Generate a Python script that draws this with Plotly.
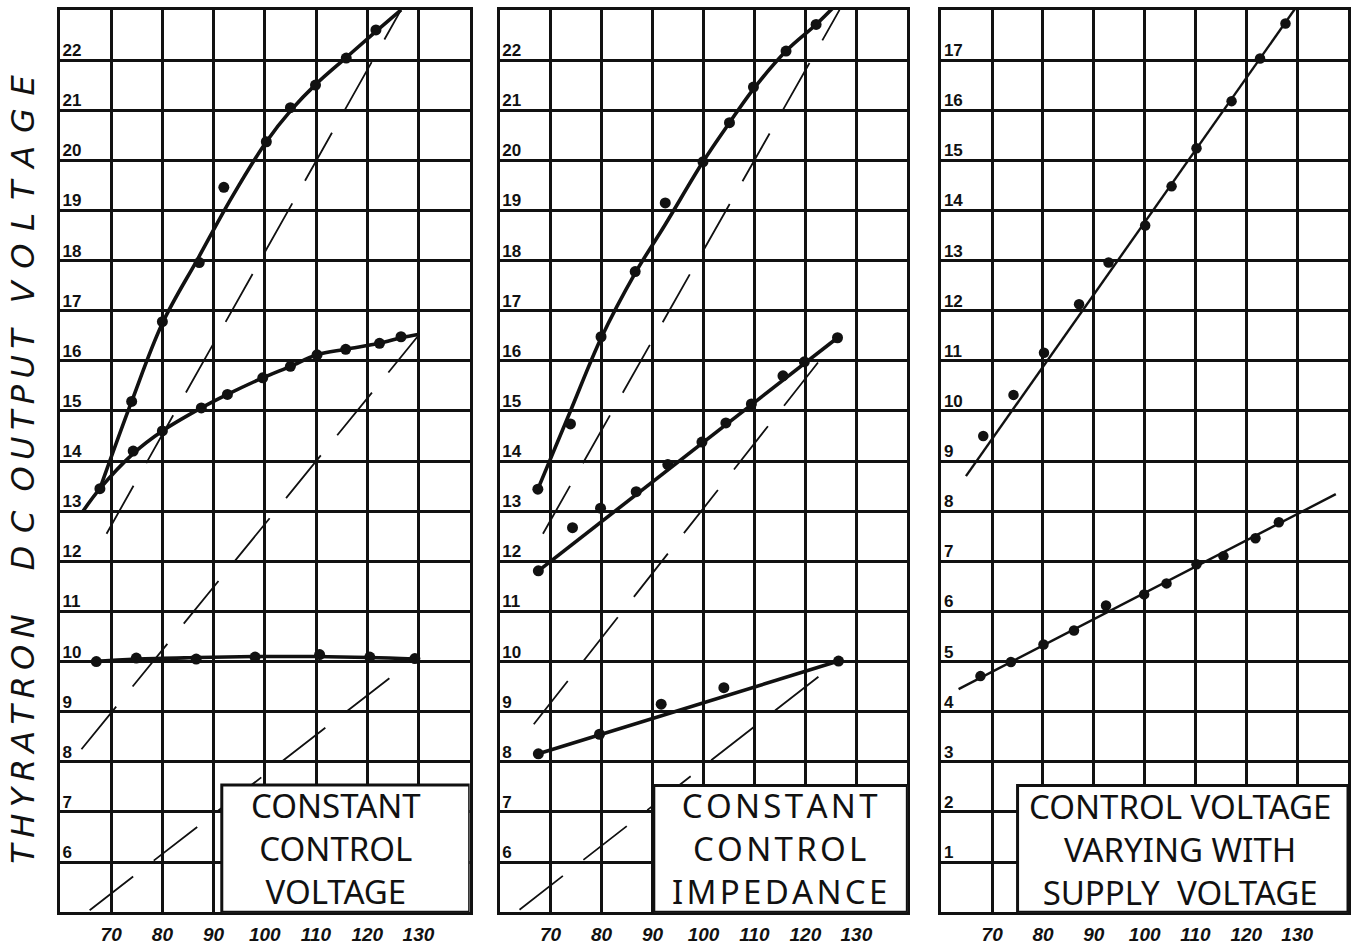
import plotly.graph_objects as go

# ---------------------------------------------------------------- data
supply_ticks = [70, 80, 90, 100, 110, 120, 130]
out_ticks_ab = list(range(6, 23))      # panels 1 and 2
out_ticks_c = list(range(1, 18))       # panel 3

# Panel 1 - constant control voltage
p1_hi_pts_x = [67.8, 74.0, 80.0, 87.2, 92.0, 100.3, 105.0, 109.9, 115.9, 121.7]
p1_hi_pts_y = [13.45, 15.19, 16.78, 17.96, 19.46, 20.37, 21.05, 21.5, 22.04, 22.6]
p1_hi_curve_x = [67.8, 74.0, 80.0, 87.0, 93.5, 100.3, 105.3, 110.0, 116.0, 121.7, 126.6]
p1_hi_curve_y = [13.45, 15.19, 16.75, 18.05, 19.25, 20.37, 21.02, 21.52, 22.06, 22.57, 23.0]

p1_mid_pts_x = [74.3, 80.0, 87.6, 92.7, 99.6, 105.0, 110.2, 115.8, 122.4, 126.6]
p1_mid_pts_y = [14.2, 14.6, 15.06, 15.33, 15.66, 15.89, 16.12, 16.23, 16.35, 16.48]
p1_mid_curve_x = [64.5, 67.8, 74.3, 80.0, 87.6, 92.7, 99.6, 105.0, 110.2, 115.8, 122.4, 126.6, 130.2]
p1_mid_curve_y = [13.0, 13.45, 14.15, 14.6, 15.06, 15.33, 15.66, 15.89, 16.12, 16.23, 16.35, 16.46, 16.53]

p1_lo_pts_x = [67.1, 74.9, 86.6, 98.1, 110.7, 120.5, 129.3]
p1_lo_pts_y = [10.0, 10.07, 10.05, 10.09, 10.14, 10.09, 10.06]
p1_lo_curve_x = [66.2, 75.0, 87.0, 98.0, 110.0, 120.5, 129.3]
p1_lo_curve_y = [10.0, 10.05, 10.08, 10.1, 10.1, 10.08, 10.05]

# proportional reference lines (start, end)
p1_ref_x = [[69.1, 126.6], [64.2, 130.2], [65.8, 129.3]]
p1_ref_y = [[12.55, 23.0], [8.25, 16.53], [5.04, 10.06]]

# Panel 2 - constant control impedance
p2_hi_pts_x = [67.5, 73.9, 79.9, 86.6, 92.5, 99.9, 105.1, 109.8, 116.2, 122.1]
p2_hi_pts_y = [13.44, 14.74, 16.48, 17.78, 19.15, 19.97, 20.75, 21.46, 22.18, 22.71]
p2_hi_curve_x = [67.5, 73.9, 79.9, 86.6, 92.5, 99.9, 105.1, 109.8, 116.2, 122.1, 125.4]
p2_hi_curve_y = [13.44, 15.0, 16.45, 17.75, 18.72, 19.97, 20.75, 21.42, 22.18, 22.71, 23.04]

p2_mid_pts_x = [67.6, 74.3, 79.8, 86.8, 93.0, 99.7, 104.4, 109.4, 115.6, 119.8, 126.3]
p2_mid_pts_y = [11.81, 12.67, 13.06, 13.39, 13.93, 14.38, 14.76, 15.14, 15.70, 15.98, 16.46]
p2_mid_curve_x = [67.6, 126.3]
p2_mid_curve_y = [11.81, 16.46]

p2_lo_pts_x = [67.6, 79.6, 91.7, 104.0, 126.5]
p2_lo_pts_y = [8.16, 8.55, 9.15, 9.48, 10.01]
p2_lo_curve_x = [67.6, 126.5]
p2_lo_curve_y = [8.16, 10.01]

p2_ref_x = [[68.5, 126.7], [66.7, 126.3], [63.9, 126.5]]
p2_ref_y = [[12.55, 23.0], [8.75, 16.46], [5.05, 10.01]]

# Panel 3 - control voltage varying with supply voltage
p3_hi_pts_x = [68.25, 74.2, 80.2, 87.1, 92.9, 100.1, 105.3, 110.2, 117.1, 122.7, 127.7]
p3_hi_pts_y = [9.50, 10.32, 11.16, 12.13, 12.96, 13.70, 14.48, 15.24, 16.18, 17.03, 17.73]
p3_hi_line_x = [64.85, 129.7]
p3_hi_line_y = [8.70, 18.04]

p3_lo_pts_x = [67.7, 73.7, 80.1, 86.1, 92.4, 99.9, 104.3, 110.2, 115.5, 121.8, 126.4]
p3_lo_pts_y = [4.71, 4.99, 5.34, 5.62, 6.12, 6.34, 6.56, 6.94, 7.10, 7.46, 7.78]
p3_lo_line_x = [63.4, 137.6]
p3_lo_line_y = [4.45, 8.34]

panel_labels = [
    ["CONSTANT", "CONTROL", "VOLTAGE"],
    ["CONSTANT", "CONTROL", "IMPEDANCE"],
    ["CONTROL VOLTAGE", "VARYING WITH", "SUPPLY  VOLTAGE"],
]
y_title_words = ["THYRATRON", "DC", "OUTPUT", "VOLTAGE"]

# ---------------------------------------------------------------- layout helpers
W, H = 1351, 945
INK = "#111111"


def px(x):
    return x / W


def py(y):
    return 1 - y / H


def spaced(word, gap):
    return gap.join(word)


def keep_spaces(line):
    return line.replace(" ", "\u00a0")


x_domains = [[px(60), px(470)], [px(500), px(908)], [px(942), px(1349)]]
y_domain = [py(920), py(10)]
y_ranges = [[5, 23], [5, 23], [0, 18]]
y_ticks = [out_ticks_ab, out_ticks_ab, out_ticks_c]

fig = go.Figure()


def curve(i, xs, ys, width=3.6, shape="spline"):
    fig.add_trace(go.Scatter(
        x=xs, y=ys, mode="lines", xaxis=f"x{i}", yaxis=f"y{i}",
        line=dict(color=INK, width=width, shape=shape, smoothing=1.0),
        hoverinfo="skip", showlegend=False))


def dots(i, xs, ys, size=11):
    fig.add_trace(go.Scatter(
        x=xs, y=ys, mode="markers", xaxis=f"x{i}", yaxis=f"y{i}",
        marker=dict(color=INK, size=size, line=dict(width=0)),
        showlegend=False))


def refs(i, xs_list, ys_list):
    for xs, ys in zip(xs_list, ys_list):
        fig.add_trace(go.Scatter(
            x=xs, y=ys, mode="lines", xaxis=f"x{i}", yaxis=f"y{i}",
            line=dict(color=INK, width=1.8, dash="55px,26px"),
            hoverinfo="skip", showlegend=False))


# panel 1
refs("", p1_ref_x, p1_ref_y)
curve("", p1_hi_curve_x, p1_hi_curve_y)
curve("", p1_mid_curve_x, p1_mid_curve_y)
curve("", p1_lo_curve_x, p1_lo_curve_y)
dots("", p1_hi_pts_x, p1_hi_pts_y)
dots("", p1_mid_pts_x, p1_mid_pts_y)
dots("", p1_lo_pts_x, p1_lo_pts_y)

# panel 2
refs("2", p2_ref_x, p2_ref_y)
curve("2", p2_hi_curve_x, p2_hi_curve_y)
curve("2", p2_mid_curve_x, p2_mid_curve_y, shape="linear")
curve("2", p2_lo_curve_x, p2_lo_curve_y, shape="linear")
dots("2", p2_hi_pts_x, p2_hi_pts_y)
dots("2", p2_mid_pts_x, p2_mid_pts_y)
dots("2", p2_lo_pts_x, p2_lo_pts_y)

# panel 3
curve("3", p3_hi_line_x, p3_hi_line_y, width=2.4, shape="linear")
curve("3", p3_lo_line_x, p3_lo_line_y, width=2.4, shape="linear")
dots("3", p3_hi_pts_x, p3_hi_pts_y, size=10.5)
dots("3", p3_lo_pts_x, p3_lo_pts_y, size=10.5)

axis_common = dict(showgrid=True, gridcolor=INK, gridwidth=2.8,
                   showline=True, mirror=True, linecolor=INK, linewidth=3,
                   zeroline=False, ticks="", fixedrange=True)

layout = dict(width=W, height=H, margin=dict(l=0, r=0, t=0, b=0),
              paper_bgcolor="white", plot_bgcolor="white", showlegend=False)

for k in range(3):
    sfx = "" if k == 0 else str(k + 1)
    layout[f"xaxis{sfx}"] = dict(
        axis_common, domain=x_domains[k], range=[60, 140], anchor=f"y{sfx}",
        tickvals=supply_ticks, ticktext=[str(v) for v in supply_ticks],
        tickfont=dict(family="Liberation Sans", size=19, color=INK,
                      weight="bold", style="italic"),
        ticklabelstandoff=3)
    layout[f"yaxis{sfx}"] = dict(
        axis_common, domain=y_domain, range=y_ranges[k], anchor=f"x{sfx}",
        tickvals=y_ticks[k], ticktext=[str(v) for v in y_ticks[k]],
        ticklabelposition="inside", ticklabelshift=-10, ticklabelstandoff=3,
        tickfont=dict(family="Liberation Sans", size=17, color=INK,
                      weight="bold"))

fig.update_layout(**layout)

# caption boxes, in each panel's data coordinates
box_corners = [(91.6, 7.54, "x", "y"), (90.25, 7.53, "x2", "y2"),
               (75.0, 2.53, "x3", "y3")]
for (x0, y1, xr, yr), yr_rng in zip(box_corners, y_ranges):
    fig.add_shape(type="rect", xref=xr, yref=yr, x0=x0, x1=140,
                  y0=yr_rng[0], y1=y1, fillcolor="white",
                  line=dict(color=INK, width=3), layer="above")

label_x = [336, 780, 1181]
label_y = [856, 856, 857]
label_gap = ["", "\u200a", ""]
for k in range(3):
    lines = [spaced(t, label_gap[k]) if label_gap[k] else t for t in panel_labels[k]]
    fig.add_annotation(
        x=px(label_x[k]), y=py(label_y[k]), xref="paper", yref="paper",
        text="<br>".join(keep_spaces(t) for t in lines),
        showarrow=False, xanchor="center", yanchor="middle", align="center",
        font=dict(family="Noto Sans", size=33, color=INK))

# vertical axis title, word by word with hand-lettered spacing
title_centres = [745, 545, 412, 190]
title_gaps = ["\u2009", "\u2009\u2009", "\u2009", "\u2009\u2009"]
for word, yc, gap in zip(y_title_words, title_centres, title_gaps):
    fig.add_annotation(
        x=px(23), y=py(yc), xref="paper", yref="paper",
        text=spaced(word, gap), textangle=-90, showarrow=False,
        xanchor="center", yanchor="middle",
        font=dict(family="DejaVu Sans", size=32, color=INK, style="italic"))

fig.write_html("out.html")
